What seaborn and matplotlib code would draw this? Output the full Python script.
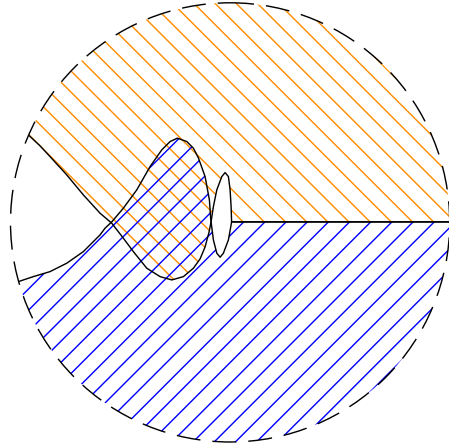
import numpy as np
import seaborn as sns
import matplotlib.pyplot as plt
from matplotlib.patches import Circle

# upper (orange) region lower edge (pixel units, y down)
xa = [28.3, 40, 50, 66.7, 83.3, 100, 111.7, 123.3, 133.3, 146.7, 160, 171.7,
      183.3, 193.3, 200, 205, 209, 210.7, 211, 213.3, 216.7, 221.7, 225,
      228.3, 230, 231, 231.5, 460]
ya = [135, 146, 156.7, 175, 195, 213.3, 223.3, 238.3, 251.7, 268.3, 276.7, 280,
      276.7, 268.3, 259, 247, 232, 223.3, 221.7, 206.7, 190, 176.7, 172.7,
      176.7, 190, 206.7, 222, 222]

# lower (blue) region upper edge
xb = [18.3, 33.3, 50, 66.7, 83.3, 100, 105, 111.7, 123.3, 136.7, 150, 161.7,
      170, 177.3, 186.7, 193.3, 198.3, 205, 209.3, 210.7, 211, 213.3, 216.7,
      220, 223.3, 228.3, 230.7, 231.5, 460]
yb = [281.7, 276.7, 271.7, 263.3, 251.7, 235, 228.3, 222, 208.3, 190, 166.7, 150,
      141.7, 138.3, 141.7, 148.3, 158, 176.7, 200, 220, 222, 240, 253.3,
      257.3, 253.3, 240, 226.7, 222, 222]

sns.set_theme(style="white")
dpi = 127
fig = plt.figure(figsize=(449.2 / dpi, 447.2 / dpi), dpi=dpi)
ax = fig.add_axes([0, 0, 1, 1])
ax.set_xlim(0, 449)
ax.set_ylim(447, 0)
ax.axis("off")
plt.rcParams["hatch.linewidth"] = 0.8

circ = Circle((230, 222.5), 219.5, transform=ax.transData)

top = ax.fill_between(xa, ya, -20, facecolor="none", edgecolor="darkorange",
                      hatch="\\\\", linewidth=0)
bot = ax.fill_between(xb, yb, 470, facecolor="none", edgecolor="blue",
                      hatch="//", linewidth=0)

sns.lineplot(x=[28.3] + xa, y=[100] + ya, sort=False, estimator=None,
             color="black", lw=0.8, ax=ax)
sns.lineplot(x=[18.3] + xb, y=[320] + yb, sort=False, estimator=None,
             color="black", lw=0.8, ax=ax)

for art in [top, bot] + list(ax.lines):
    art.set_clip_path(circ)

ax.add_patch(Circle((230, 222.5), 219.5, facecolor="none", edgecolor="black",
                    lw=0.8, linestyle=(0, (17, 8.5))))

fig.savefig("out.png", dpi=dpi)
